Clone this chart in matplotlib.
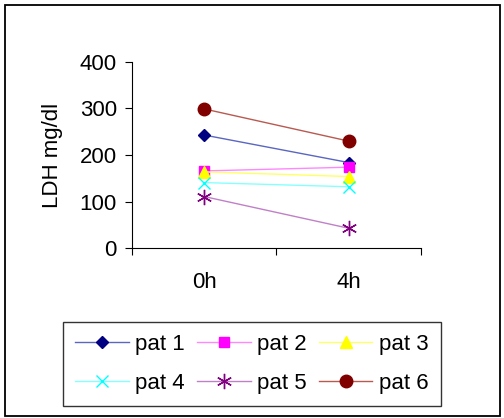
import matplotlib
matplotlib.use("Agg")
import matplotlib.pyplot as plt
from matplotlib.patches import Rectangle

plt.rcParams["font.family"] = ["Liberation Sans", "DejaVu Sans"]

times = ["0h", "4h"]
labels = ["pat 1", "pat 2", "pat 3", "pat 4", "pat 5", "pat 6"]
pat1 = [243, 184]
pat2 = [166, 174]
pat3 = [164, 154]
pat4 = [141, 132]
pat5 = [111, 43]
pat6 = [299, 230]
series = [pat1, pat2, pat3, pat4, pat5, pat6]

line_colors = ["#5a66c0", "#ff88ff", "#ffff66", "#88ffff", "#c080c8", "#b85a50"]
mark_colors = ["#000080", "#ff00ff", "#ffff00", "#00ffff", "#800080", "#800000"]
markers = ["D", "s", "^", "x", (6, 2, 0), "o"]
msizes = [6, 7.5, 8, 8, 11, 9]

fs = 16

fig = plt.figure(figsize=(5.04, 4.18), dpi=100)
fig.patches.append(Rectangle((5 / 504, 2 / 418), 495 / 504, 411 / 418,
                             transform=fig.transFigure, fill=False,
                             edgecolor="black", linewidth=1.3))
ax = fig.add_axes([0.262, 0.406, 0.573, 0.446])

x = [0.5, 1.5]
handles = []
for vals, lab, lc, mc, mk, ms in zip(series, labels, line_colors, mark_colors, markers, msizes):
    h, = ax.plot(x, vals, color=lc, linewidth=1.0, marker=mk, markersize=ms,
                 markerfacecolor=mc, markeredgecolor=mc, markeredgewidth=1.0,
                 label=lab)
    handles.append(h)

ax.set_xlim(0, 2)
ax.set_ylim(0, 400)
ax.set_yticks([0, 100, 200, 300, 400])
ax.set_xticks([0, 1, 2])
ax.set_xticklabels([])
ax.set_xticks(x, minor=True)
ax.set_xticklabels(times, minor=True)
ax.tick_params(axis="x", which="minor", length=0, pad=17, labelsize=fs)
ax.tick_params(axis="x", which="major", length=5, direction="out")
ax.tick_params(axis="y", length=5, direction="out", labelsize=fs, pad=6)
ax.spines["top"].set_visible(False)
ax.spines["right"].set_visible(False)
ax.set_ylabel("LDH mg/dl", fontsize=fs, labelpad=12)

order = [0, 3, 1, 4, 2, 5]
leg = fig.legend([handles[i] for i in order], [labels[i] for i in order],
                 ncol=3, loc="lower left", bbox_to_anchor=(63 / 504, 12 / 418, 378 / 504, 83 / 418),
                 mode="expand", fontsize=fs, handlelength=2.4, handletextpad=0.3,
                 columnspacing=0.6, labelspacing=0.8, frameon=True, fancybox=False,
                 borderpad=0.55, borderaxespad=0)
leg.get_frame().set_edgecolor("black")
leg.get_frame().set_linewidth(1.0)

fig.savefig("out.png", dpi=100)
